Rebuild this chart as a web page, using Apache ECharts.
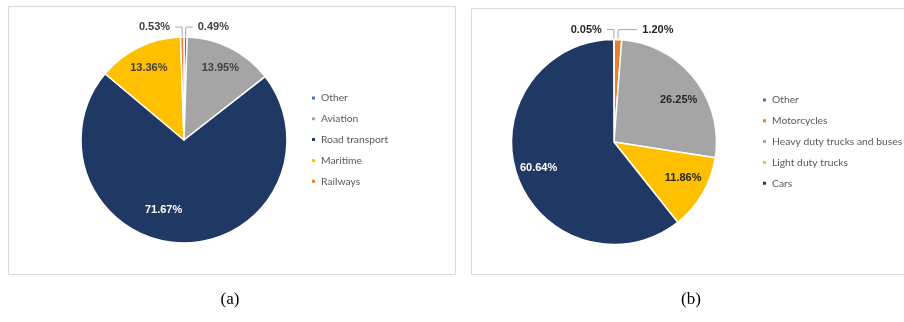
<!DOCTYPE html>
<html>
<head>
<meta charset="utf-8">
<script src="https://cdn.jsdelivr.net/npm/echarts@6/dist/echarts.min.js"></script>
<style>
html,body{margin:0;padding:0;background:#fff;}
#chart{width:904px;height:322px;}
</style>
</head>
<body>
<div id="chart"></div>
<script>
// ---- data ----
const categoriesA = ['Other', 'Aviation', 'Road transport', 'Maritime', 'Railways'];
const valuesA = [0.49, 13.95, 71.67, 13.36, 0.53];
const categoriesB = ['Other', 'Motorcycles', 'Heavy duty trucks and buses', 'Light duty trucks', 'Cars'];
const valuesB = [0.05, 1.20, 26.25, 11.86, 60.64];
const captions = ['(a)', '(b)'];

// ---- styles ----
const colorMap = {
  'Other': '#4472C4', 'Aviation': '#A5A5A5', 'Road transport': '#203864',
  'Maritime': '#FFC000', 'Railways': '#ED7D31', 'Motorcycles': '#ED7D31',
  'Heavy duty trucks and buses': '#A5A5A5', 'Light duty trucks': '#FFC000', 'Cars': '#203864'
};
const outsideSet = { A: ['Other', 'Railways'], B: ['Other', 'Motorcycles'] };
const leaderLen2 = { 'Motorcycles': 19 };
const whiteLabel = ['Road transport', 'Cars'];
// small label nudges (style only) to mimic the spreadsheet's best-fit label placement
const labelNudge = { 'Road transport': [-19, -10], 'Heavy duty trucks and buses': [2, 8], 'Light duty trucks': [0, -4] };
const panel = {
  A: { cx: 184, cy: 140, r: 103, text: '#404040' },
  B: { cx: 614, cy: 142, r: 102.5, text: '#262626' }
};
const insideRatio = 0.78;

const chart = echarts.init(document.getElementById('chart'), null, { renderer: 'canvas' });

function buildData(cats, vals, key) {
  return cats.map((c, i) => {
    const outside = outsideSet[key].indexOf(c) >= 0;
    const ll = { show: outside };
    if (leaderLen2[c] && outside) ll.length2 = leaderLen2[c];
    return {
      name: c,
      value: vals[i],
      itemStyle: { color: colorMap[c] },
      label: outside
        ? { position: 'outside', color: panel[key].text }
        : { position: 'inside', color: whiteLabel.indexOf(c) >= 0 ? '#ffffff' : panel[key].text },
      labelLine: ll
    };
  });
}

function makeLayout(key, cats) {
  const p = panel[key];
  return function (params) {
    const name = cats[params.dataIndex];
    if (outsideSet[key].indexOf(name) >= 0) return {};
    const lr = params.labelRect;
    const lx = lr.x + lr.width / 2, ly = lr.y + lr.height / 2;
    const vx = lx - p.cx, vy = ly - p.cy;
    const d = Math.sqrt(vx * vx + vy * vy) || 1;
    const target = p.r * insideRatio;
    const n = labelNudge[name] || [0, 0];
    return { dx: vx / d * target - vx + n[0], dy: vy / d * target - vy + n[1] };
  };
}

function pieSeries(key, cats, vals, startAngle) {
  const p = panel[key];
  return {
    type: 'pie',
    center: [p.cx, p.cy],
    radius: p.r,
    startAngle: startAngle,
    clockwise: true,
    avoidLabelOverlap: false,
    animation: false,
    itemStyle: { borderColor: '#ffffff', borderWidth: 1.5 },
    label: {
      show: true,
      formatter: (q) => q.value.toFixed(2) + '%',
      fontFamily: 'Liberation Sans, Arial, sans-serif',
      fontWeight: 'bold',
      fontSize: 11
    },
    labelLine: { show: true, length: 10, length2: 7, lineStyle: { color: '#A6A6A6', width: 1 } },
    labelLayout: makeLayout(key, cats),
    emphasis: { disabled: true },
    data: buildData(cats, vals, key)
  };
}

const legendText = { color: '#595959', fontSize: 10.3, fontFamily: 'Lato, Liberation Sans, sans-serif', lineHeight: 14 };

chart.setOption({
  backgroundColor: '#ffffff',
  animation: false,
  legend: [
    {
      orient: 'vertical', left: 310, top: 91, padding: 0, icon: 'rect', itemWidth: 5, itemHeight: 5, itemGap: 6.8,
      data: categoriesA, textStyle: legendText, selectedMode: false
    },
    {
      orient: 'vertical', left: 761, top: 93, padding: 0, icon: 'rect', itemWidth: 5, itemHeight: 5, itemGap: 6.8,
      data: categoriesB, textStyle: legendText, selectedMode: false
    }
  ],
  graphic: [
    { type: 'rect', shape: { x: 8.5, y: 6.5, width: 447, height: 268 }, style: { fill: 'none', stroke: '#D9D9D9', lineWidth: 1 }, silent: true, z: -10 },
    { type: 'rect', shape: { x: 471.5, y: 8.5, width: 440, height: 266 }, style: { fill: 'none', stroke: '#D9D9D9', lineWidth: 1 }, silent: true, z: -10 },
    { type: 'text', x: 230, y: 300, style: { text: captions[0], font: '17px "Liberation Serif", serif', fill: '#000', align: 'center', verticalAlign: 'middle' } },
    { type: 'text', x: 691, y: 300, style: { text: captions[1], font: '17px "Liberation Serif", serif', fill: '#000', align: 'center', verticalAlign: 'middle' } }
  ],
  series: [
    pieSeries('A', categoriesA, valuesA, 90),
    pieSeries('B', categoriesB, valuesB, 90.15)
  ]
});
</script>
</body>
</html>
